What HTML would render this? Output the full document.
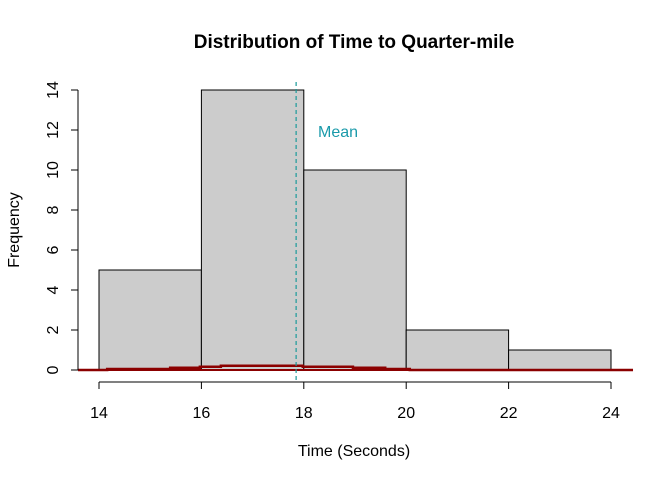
<!DOCTYPE html>
<html><head><meta charset="utf-8"><style>
html,body{margin:0;padding:0;background:#fff;}
svg{display:block;font-family:"Liberation Sans",Arial,sans-serif;}
</style></head><body>
<svg id="chart" width="672" height="480" viewBox="0 0 672 480">
<text x="354" y="48" text-anchor="middle" font-size="19" font-weight="bold">Distribution of Time to Quarter-mile</text>
<text x="354" y="456" text-anchor="middle" font-size="16">Time (Seconds)</text>
<text transform="translate(19,230) rotate(-90)" text-anchor="middle" font-size="16">Frequency</text>
<g id="bars"></g><g id="dens"></g><g id="axes"></g><g id="mean"></g>
</svg>
<script>
const binEdges = [14, 16, 18, 20, 22, 24];
const counts = [5, 14, 10, 2, 1];
const xTicks = [14, 16, 18, 20, 22, 24];
const yTicks = [0, 2, 4, 6, 8, 10, 12, 14];
const densX = [13.59, 14.16, 15.39, 15.97, 16.38, 17.98, 18.96, 19.59, 20.07, 24.43];
const densY = [0, 0.05, 0.115, 0.165, 0.215, 0.165, 0.115, 0.05, 0];
const meanValue = 17.85;

const NS = "http://www.w3.org/2000/svg";
const sx = v => 99 + (v - 14) * 51.2;
const sy = v => 370 - v * 20;
function mk(tag, attrs, parent) {
  const e = document.createElementNS(NS, tag);
  for (const k in attrs) e.setAttribute(k, attrs[k]);
  document.getElementById(parent).appendChild(e);
  return e;
}
counts.forEach((c, i) => {
  const r = mk('rect', {x: sx(binEdges[i]), y: sy(c), width: sx(binEdges[i+1]) - sx(binEdges[i]), height: sy(0) - sy(c), fill: '#cccccc', stroke: '#000', 'stroke-width': 1}, 'bars');
  
  
});
let d = '';
densY.forEach((v, i) => {
  d += (i === 0 ? 'M' : 'L') + sx(densX[i]) + ',' + sy(v) + ' L' + sx(densX[i+1]) + ',' + sy(v) + ' ';
});
const dl = mk('path', {d: d, fill: 'none', stroke: '#8b0000', 'stroke-width': 2.5}, 'dens');


const bl = mk('line', {x1: 78, x2: 633, y1: sy(0), y2: sy(0), stroke: '#8b0000', 'stroke-width': 2}, 'dens');


const xa = mk('line', {x1: sx(xTicks[0]), x2: sx(xTicks[xTicks.length-1]), y1: 382, y2: 382, stroke: '#000'}, 'axes');


xTicks.forEach(t => {
  mk('line', {x1: sx(t), x2: sx(t), y1: 382, y2: 389, stroke: '#000'}, 'axes');
  const tx = mk('text', {x: sx(t), y: 418, 'text-anchor': 'middle', 'font-size': 16}, 'axes');
  tx.textContent = t;
  
  
});
const ya = mk('line', {x1: 78, x2: 78, y1: sy(yTicks[0]), y2: sy(yTicks[yTicks.length-1]), stroke: '#000'}, 'axes');


yTicks.forEach(t => {
  mk('line', {x1: 71, x2: 78, y1: sy(t), y2: sy(t), stroke: '#000'}, 'axes');
  const tx = mk('text', {x: 0, y: 0, 'text-anchor': 'middle', 'font-size': 16, transform: 'translate(58,' + sy(t) + ') rotate(-90)'}, 'axes');
  tx.textContent = t;
  
  
});
const ml = mk('line', {x1: sx(meanValue), x2: sx(meanValue), y1: 82, y2: 382, stroke: '#1a9a9a', 'stroke-width': 1.2, 'stroke-dasharray': '4,3'}, 'mean');


const mt = mk('text', {x: 338, y: 137, 'text-anchor': 'middle', 'font-size': 16, fill: '#1a9aaa'}, 'mean');
mt.textContent = 'Mean';


</script>
</body></html>
